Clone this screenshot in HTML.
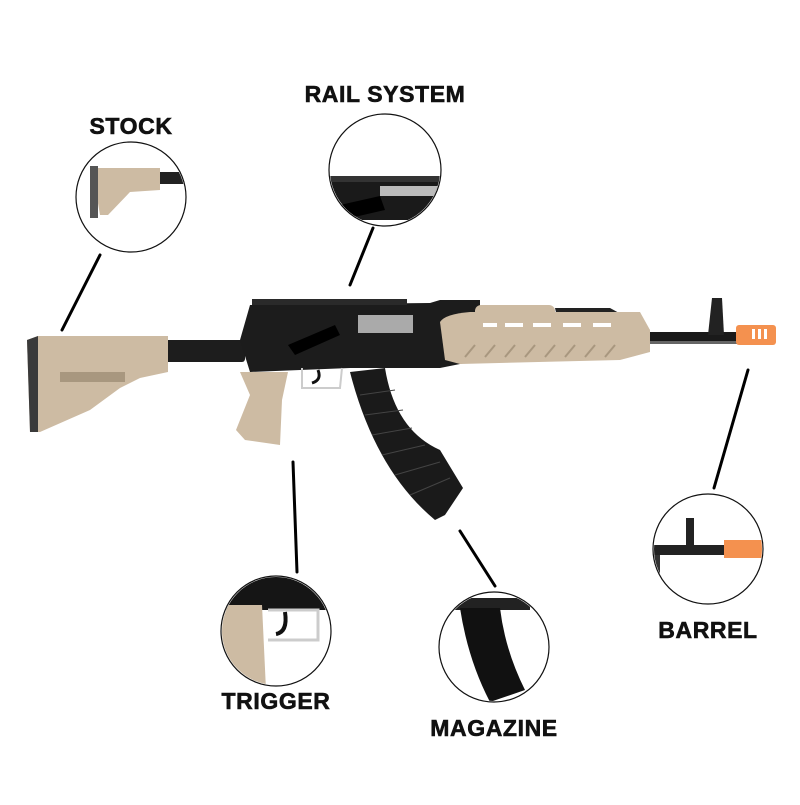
<!DOCTYPE html>
<html><head><style>
html,body{margin:0;padding:0;background:#fff;}
.t{font-family:"Liberation Sans",sans-serif;font-weight:bold;font-size:23px;fill:#111;stroke:#111;stroke-width:0.6;letter-spacing:0.6px;}
</style></head><body>
<svg width="800" height="800" viewBox="0 0 800 800" xmlns="http://www.w3.org/2000/svg">
<rect width="800" height="800" fill="#fff"/>
<text class="t" x="131" y="134" text-anchor="middle">STOCK</text>
<text class="t" x="385" y="102" text-anchor="middle">RAIL SYSTEM</text>
<text class="t" x="708" y="638" text-anchor="middle">BARREL</text>
<text class="t" x="276" y="709" text-anchor="middle">TRIGGER</text>
<text class="t" x="494" y="736" text-anchor="middle">MAGAZINE</text>
<g stroke="#000" stroke-width="3" stroke-linecap="round">
<line x1="100" y1="255" x2="62" y2="330"/>
<line x1="373" y1="228" x2="350" y2="285"/>
<line x1="748" y1="370" x2="714" y2="488"/>
<line x1="293" y1="462" x2="297" y2="572"/>
<line x1="460" y1="531" x2="495" y2="586"/>
</g>
<g fill="#fff" stroke="#111" stroke-width="1.2">
<circle cx="131" cy="197" r="55"/>
<circle cx="385" cy="170" r="56"/>
<circle cx="708" cy="549" r="55"/>
<circle cx="276" cy="631" r="55"/>
<circle cx="494" cy="647" r="55"/>
</g>
<defs>
<clipPath id="c1"><circle cx="131" cy="197" r="54"/></clipPath>
<clipPath id="c2"><circle cx="385" cy="170" r="55"/></clipPath>
<clipPath id="c3"><circle cx="708" cy="549" r="54"/></clipPath>
<clipPath id="c4"><circle cx="276" cy="631" r="54"/></clipPath>
<clipPath id="c5"><circle cx="494" cy="647" r="54"/></clipPath>
</defs>
<g clip-path="url(#c1)">
<rect x="150" y="172" width="40" height="12" fill="#222"/>
<path d="M92 168 L160 168 L160 190 L130 192 L108 215 L100 215 Z" fill="#cdbba3"/>
<rect x="90" y="166" width="8" height="52" fill="#555"/>
</g>
<g clip-path="url(#c2)">
<rect x="325" y="180" width="120" height="40" fill="#1a1a1a"/>
<rect x="330" y="176" width="110" height="6" fill="#333"/>
<rect x="380" y="186" width="60" height="10" fill="#bbb"/>
<path d="M340 205 L380 196 L385 210 L350 218 Z" fill="#000"/>
</g>
<g clip-path="url(#c3)">
<rect x="650" y="545" width="80" height="10" fill="#222"/>
<rect x="686" y="518" width="8" height="30" fill="#222"/>
<rect x="724" y="540" width="40" height="18" fill="#f4914f"/>
<rect x="652" y="555" width="8" height="20" fill="#333"/>
</g>
<g clip-path="url(#c4)">
<rect x="220" y="576" width="120" height="34" fill="#151515"/>
<path d="M222 605 L262 605 L266 690 L222 690 Z" fill="#cdbba3"/>
<path d="M268 610 L318 610 L318 640 L268 640" fill="none" stroke="#ccc" stroke-width="3"/>
<path d="M285 612 Q288 632 276 634" fill="none" stroke="#111" stroke-width="4"/>
</g>
<g clip-path="url(#c5)">
<rect x="450" y="598" width="80" height="12" fill="#222"/>
<path d="M460 608 L500 608 Q505 650 525 690 L490 702 Q468 660 460 608 Z" fill="#111"/>
</g>
<rect x="160" y="340" width="85" height="22" rx="3" fill="#1d1d1d"/>
<path d="M27 340 L38 336 L168 336 L168 372 L140 378 L120 388 L90 410 L40 432 L30 432 Z" fill="#cdbba3"/>
<path d="M27 340 L38 336 L38 432 L30 432 Z" fill="#3a3a3a"/>
<path d="M60 372 L125 372 L125 382 L60 382 Z" fill="#a8977f"/>
<rect x="640" y="332" width="100" height="11" fill="#1a1a1a"/>
<rect x="640" y="341" width="100" height="3" fill="#666"/>
<path d="M712 298 L722 298 L724 335 L708 335 Z" fill="#222"/>
<rect x="736" y="325" width="40" height="20" rx="3" fill="#f4914f"/>
<g fill="#fff"><rect x="752" y="329" width="3" height="10"/><rect x="758" y="329" width="3" height="10"/><rect x="764" y="329" width="3" height="10"/></g>
<path d="M250 305 L430 303 L440 300 L480 300 L480 360 L440 368 L350 368 L300 370 L250 372 L240 340 Z" fill="#1c1c1c"/>
<rect x="252" y="299" width="155" height="6" fill="#2a2a2a"/>
<rect x="358" y="315" width="55" height="18" fill="#aaa"/>
<path d="M288 345 L335 325 L340 335 L295 355 Z" fill="#000"/>
<rect x="475" y="305" width="80" height="18" rx="6" fill="#cdbba3"/>
<path d="M555 308 L610 308 L650 330 L640 335 L560 330 Z" fill="#222"/>
<path d="M440 322 Q445 314 470 312 L640 312 L650 330 L650 352 L620 360 L460 364 L445 360 Z" fill="#cdbba3"/>
<g fill="#fff"><rect x="483" y="323" width="14" height="4"/><rect x="505" y="323" width="18" height="4"/><rect x="533" y="323" width="18" height="4"/><rect x="563" y="323" width="18" height="4"/><rect x="593" y="323" width="18" height="4"/></g>
<g stroke="#a8977f" stroke-width="2"><line x1="465" y1="357" x2="475" y2="345"/><line x1="485" y1="357" x2="495" y2="345"/><line x1="505" y1="357" x2="515" y2="345"/><line x1="525" y1="357" x2="535" y2="345"/><line x1="545" y1="357" x2="555" y2="345"/><line x1="565" y1="357" x2="575" y2="345"/><line x1="585" y1="357" x2="595" y2="345"/><line x1="605" y1="357" x2="615" y2="345"/></g>
<path d="M302 368 L302 388 L340 388 L342 368" fill="none" stroke="#ccc" stroke-width="2"/>
<path d="M318 370 Q322 380 312 383" fill="none" stroke="#111" stroke-width="3"/>
<path d="M240 372 L288 372 L282 400 L280 445 L245 440 L236 430 L250 395 Z" fill="#cdbba3"/>
<path d="M350 372 L385 368 Q395 430 440 450 L463 488 L445 515 L435 520 Q375 470 350 372 Z" fill="#1a1a1a"/>
<g stroke="#444" stroke-width="1" fill="none"><path d="M360 395 L395 390"/><path d="M365 415 L403 410"/><path d="M372 435 L412 428"/><path d="M382 455 L425 445"/><path d="M395 475 L440 462"/><path d="M410 495 L450 478"/></g>
</svg>
</body></html>
